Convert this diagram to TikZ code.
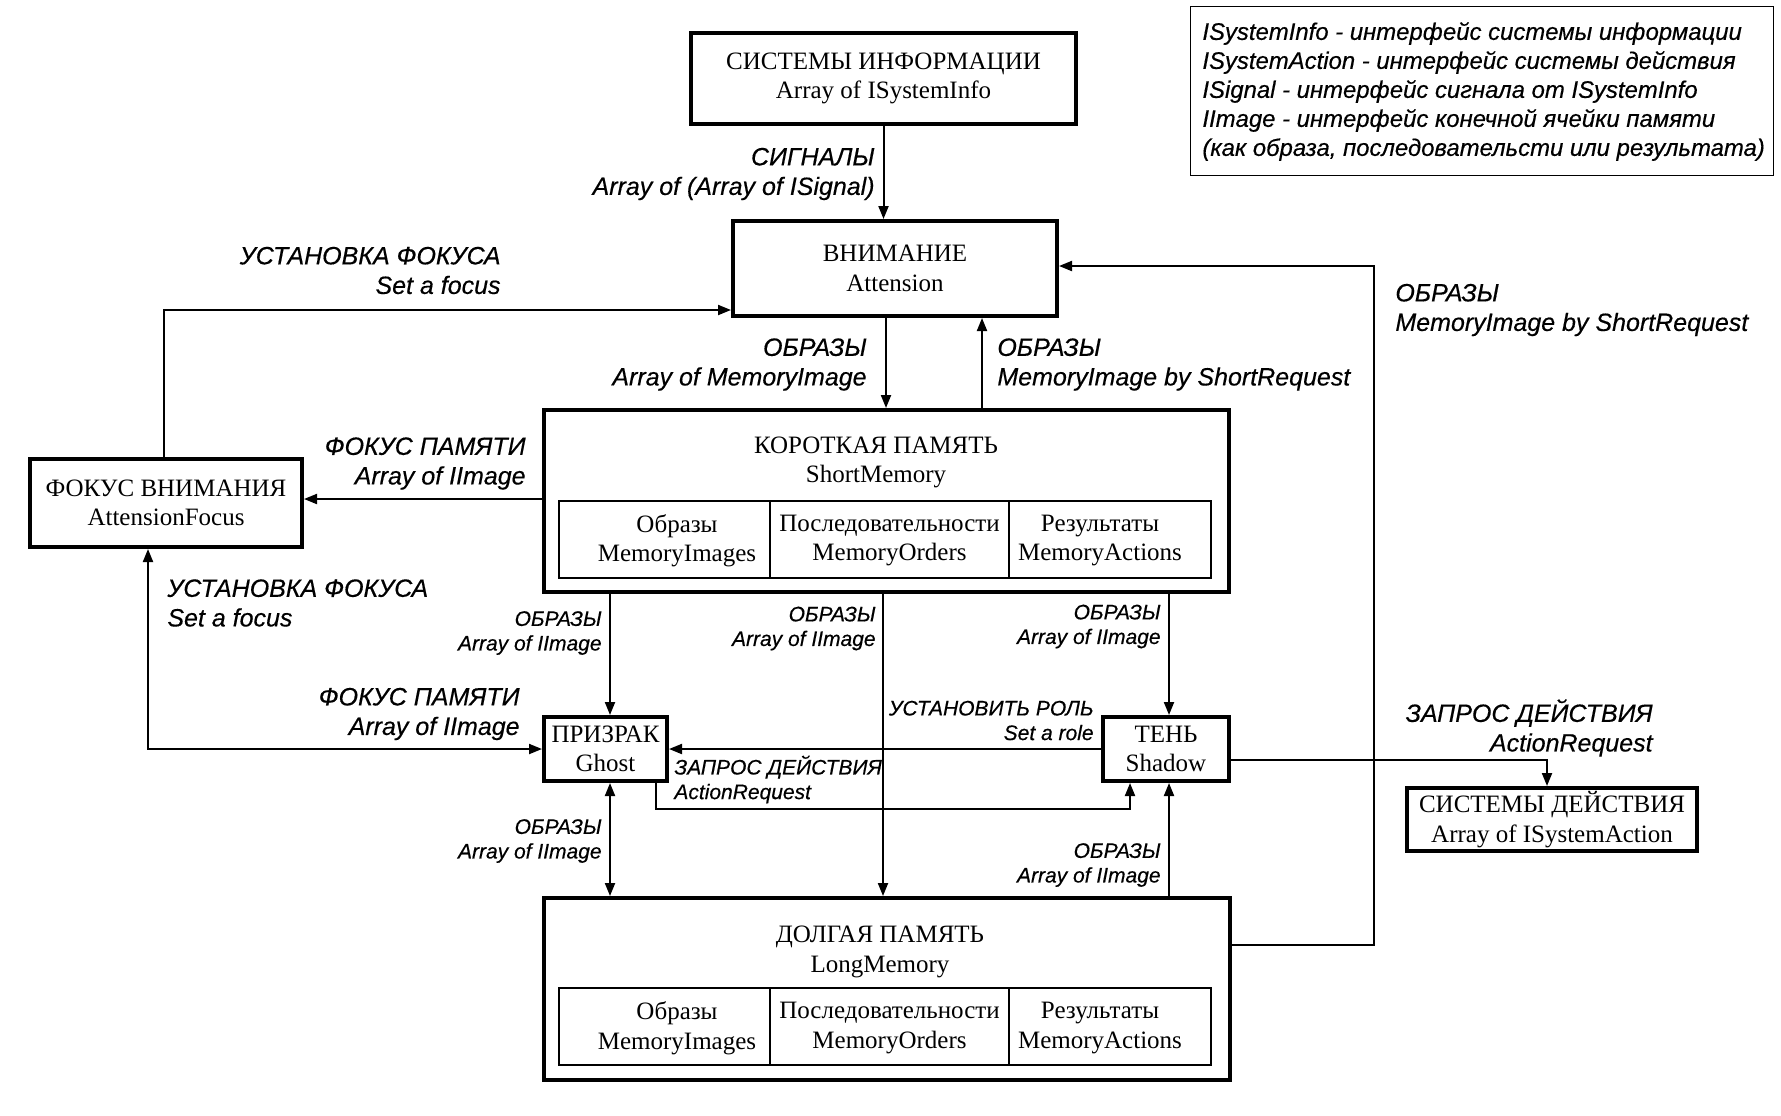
\documentclass[tikz,border=0pt]{standalone}
\usepackage{fontspec}
\setmainfont{Liberation Serif}
\newfontfamily\labfont[FakeBold=0.4]{Liberation Sans}
\usetikzlibrary{arrows.meta}
\tikzset{
 box/.style={draw,line width=2pt,inner sep=0pt,align=center,font=\fontsize{12.5}{14.75}\selectfont},
 cell/.style={draw,line width=1pt,inner sep=0pt,minimum height=38.5pt},
 btext/.style={inner sep=0pt,align=center,font=\fontsize{12.5}{14.75}\selectfont},
 arr/.style={line width=1pt,-{Triangle[length=6.5pt,width=5pt]}},
 darr/.style={line width=1pt,{Triangle[length=6.5pt,width=5pt]}-{Triangle[length=6.5pt,width=5pt]}},
 lab/.style={inner sep=0pt,font=\labfont\itshape\fontsize{12.5}{14.8}\selectfont},
 slab/.style={inner sep=0pt,font=\labfont\itshape\fontsize{10.5}{12.3}\selectfont},
 leg/.style={inner sep=0pt,align=left,font=\labfont\itshape\fontsize{11.95}{14.5}\selectfont},
}
\begin{document}
\begin{tikzpicture}[x=0.5pt,y=-0.5pt]
\useasboundingbox (0,0) rectangle (1781,1115);
\fill[white] (0,0) rectangle (1781,1115);

% boxes
\node[box,minimum width=192.5pt,minimum height=45.5pt] (sysinfo) at (883.5,78.5) {СИСТЕМЫ ИНФОРМАЦИИ\\Array of ISystemInfo};
\node[box,minimum width=162pt,minimum height=47.5pt] (attn) at (895,268.5) {ВНИМАНИЕ\\Attension};
\node[box,minimum width=342.5pt,minimum height=91pt] (short) at (886.5,501) {};
\node[btext] (shorttitle) at (876,462.5) {КОРОТКАЯ ПАМЯТЬ\\ShortMemory};
\node[cell,minimum width=105.5pt] (sc1) at (664.5,539.5) {};
\node[cell,minimum width=119.5pt] (sc2) at (889.5,539.5) {};
\node[cell,minimum width=101pt] (sc3) at (1110,539.5) {};
\node[btext] (st1) at (677,540.5) {Образы\\MemoryImages};
\node[btext] (st2) at (889.5,540.5) {Последовательности\\MemoryOrders};
\node[btext] (st3) at (1100,540.5) {Результаты\\MemoryActions};

\node[box,minimum width=136pt,minimum height=44pt] (focus) at (166,503) {ФОКУС ВНИМАНИЯ\\AttensionFocus};
\node[box,minimum width=61.5pt,minimum height=32pt] (ghost) at (605.5,749) {ПРИЗРАК\\Ghost};
\node[box,minimum width=63pt,minimum height=32pt] (shadow) at (1166,749) {ТЕНЬ\\Shadow};
\node[box,minimum width=145pt,minimum height=31.5pt] (sysact) at (1552,819.5) {СИСТЕМЫ ДЕЙСТВИЯ\\Array of ISystemAction};

\node[box,minimum width=343pt,minimum height=91pt] (long) at (887,989) {};
\node[btext] (longtitle) at (880,952) {ДОЛГАЯ ПАМЯТЬ\\LongMemory};
\node[cell,minimum width=105.5pt] (lc1) at (664.5,1026.5) {};
\node[cell,minimum width=119.5pt] (lc2) at (889.5,1026.5) {};
\node[cell,minimum width=101pt] (lc3) at (1110,1026.5) {};
\node[btext] (lt1) at (677,1028) {Образы\\MemoryImages};
\node[btext] (lt2) at (889.5,1028) {Последовательности\\MemoryOrders};
\node[btext] (lt3) at (1100,1028) {Результаты\\MemoryActions};

% legend
\node[draw,line width=0.75pt,inner sep=0pt,minimum width=291.5pt,minimum height=84.5pt] (legend) at (1482,91) {};
\node[leg,anchor=west] (legtext) at (1202,91.5) {ISystemInfo - интерфейс системы информации\\ISystemAction - интерфейс системы действия\\ISignal - интерфейс сигнала от ISystemInfo\\IImage - интерфейс конечной ячейки памяти\\(как образа, последовательсти или результата)};

% connectors
\draw[arr] (sysinfo.south) -- (attn.north -| sysinfo.south);
\draw[arr] (attn.south -| 886,0) -- (short.north -| 886,0);
\draw[arr] (short.north -| 982,0) -- (attn.south -| 982,0);
\draw[arr] (long.east |- 0,945) -| (1374,266) -- (attn.east |- 0,266);
\draw[arr] (focus.north -| 164,0) |- (attn.west |- 0,310);
\draw[arr] (short.west |- 0,499) -- (focus.east |- 0,499);
\draw[darr] (focus.south -| 148,0) |- (ghost.west);
\draw[arr] (short.south -| 610,0) -- (ghost.north -| 610,0);
\draw[arr] (short.south -| 883,0) -- (long.north -| 883,0);
\draw[arr] (short.south -| 1169,0) -- (shadow.north -| 1169,0);
\draw[arr] (shadow.west) -- (ghost.east);
\draw[arr] (ghost.south -| 656,0) -- (656,809) -| (shadow.south -| 1130,0);
\draw[darr] (ghost.south -| 610,0) -- (long.north -| 610,0);
\draw[arr] (long.north -| 1169,0) -- (shadow.south -| 1169,0);
\draw[arr] (shadow.east |- 0,760) -| (sysact.north -| 1547,0);

% labels
\node[lab,anchor=east,align=right] (l1) at (875,174) {СИГНАЛЫ\\Array of (Array of ISignal)};
\node[lab,anchor=east,align=right] (l2) at (501,270.5) {УСТАНОВКА ФОКУСА\\Set a focus};
\node[lab,anchor=east,align=right] (l3) at (867,364.5) {ОБРАЗЫ\\Array of MemoryImage};
\node[lab,anchor=west,align=left] (l4) at (997,364.5) {ОБРАЗЫ\\MemoryImage by ShortRequest};
\node[lab,anchor=west,align=left] (l5) at (1395,310) {ОБРАЗЫ\\MemoryImage by ShortRequest};
\node[lab,anchor=east,align=right] (l6) at (526,463.5) {ФОКУС ПАМЯТИ\\Array of IImage};
\node[lab,anchor=west,align=left] (l7) at (167,603) {УСТАНОВКА ФОКУСА\\Set a focus};
\node[lab,anchor=east,align=right] (l8) at (520,714) {ФОКУС ПАМЯТИ\\Array of IImage};
\node[slab,anchor=east,align=right] (l9) at (602,633) {ОБРАЗЫ\\Array of IImage};
\node[slab,anchor=east,align=right] (l10) at (876,628.5) {ОБРАЗЫ\\Array of IImage};
\node[slab,anchor=east,align=right] (l11) at (1161,626.5) {ОБРАЗЫ\\Array of IImage};
\node[slab,anchor=east,align=right] (l12) at (1094,720.5) {УСТАНОВИТЬ РОЛЬ\\Set a role};
\node[slab,anchor=west,align=left] (l13) at (674,779.5) {ЗАПРОС ДЕЙСТВИЯ\\ActionRequest};
\node[slab,anchor=east,align=right] (l14) at (602,841) {ОБРАЗЫ\\Array of IImage};
\node[slab,anchor=east,align=right] (l15) at (1161,865) {ОБРАЗЫ\\Array of IImage};
\node[lab,anchor=east,align=right] (l16) at (1653,728) {ЗАПРОС ДЕЙСТВИЯ\\ActionRequest};
\end{tikzpicture}
\end{document}
